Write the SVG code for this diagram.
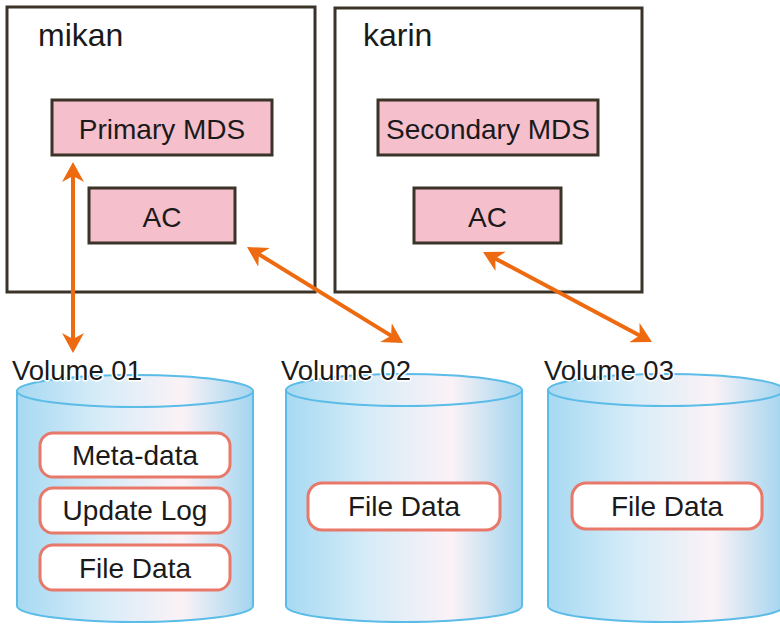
<svg xmlns="http://www.w3.org/2000/svg" width="780" height="624" viewBox="0 0 780 624">
<defs>
<linearGradient id="cyl" x1="0" y1="0" x2="1" y2="0">
<stop offset="0" stop-color="#a6d9f2"/>
<stop offset="0.35" stop-color="#d6ecf8"/>
<stop offset="0.7" stop-color="#fbf2f6"/>
<stop offset="1" stop-color="#a3d5ef"/>
</linearGradient>
<marker id="ah" viewBox="0 0 20 22" markerWidth="20" markerHeight="22" refX="14" refY="11" orient="auto-start-reverse" markerUnits="userSpaceOnUse">
<path d="M0,0 L20,11 L0,22 L6,11 Z" fill="#ee6a10"/>
</marker>
<style>
.host{fill:#fff;stroke:#3b3328;stroke-width:3}
.comp{fill:#f5bfcc;stroke:#3b3328;stroke-width:3}
.item{fill:#fff;stroke:#e8786a;stroke-width:3}
.body{fill:url(#cyl);stroke:#5bbce8;stroke-width:2}
.top{fill:url(#cyl);stroke:#5bbce8;stroke-width:2}
text{font-family:"Liberation Sans",Arial,sans-serif;fill:#1a1a1a}
.t{font-size:28px;text-anchor:middle}
.h{font-size:32px}
.v{font-size:27.5px;stroke:#fff;stroke-width:3;paint-order:stroke;stroke-linejoin:round}
.arr{stroke:#ee6a10;stroke-width:4;fill:none;marker-start:url(#ah);marker-end:url(#ah)}
</style>
</defs>

<g id="mikan">
<rect class="host" x="7" y="7" width="308" height="285"/>
<text class="h" x="38" y="46">mikan</text>
</g>
<g id="primary-mds">
<rect class="comp" x="52" y="100" width="220" height="55"/>
<text class="t" x="162" y="139">Primary MDS</text>
</g>
<g id="ac-mikan">
<rect class="comp" x="89" y="188" width="146" height="55"/>
<text class="t" x="162" y="227">AC</text>
</g>

<g id="karin">
<rect class="host" x="335" y="8" width="307" height="284"/>
<text class="h" x="363" y="46">karin</text>
</g>
<g id="secondary-mds">
<rect class="comp" x="378" y="100" width="220" height="55"/>
<text class="t" x="488" y="139">Secondary MDS</text>
</g>
<g id="ac-karin">
<rect class="comp" x="414" y="188" width="147" height="55"/>
<text class="t" x="487.5" y="227">AC</text>
</g>

<g id="volume01">
<path class="body" d="M17,391 L17,606 A118,16 0 0 0 253,606 L253,391 Z"/>
<ellipse class="top" cx="135" cy="391" rx="118" ry="16"/>
<text class="v" x="12" y="380">Volume 01</text>
<g id="meta-data">
<rect class="item" x="40" y="433" width="190" height="44" rx="13"/>
<text class="t" x="135" y="465">Meta-data</text>
</g>
<g id="update-log">
<rect class="item" x="40" y="488" width="190" height="45" rx="13"/>
<text class="t" x="135" y="520">Update Log</text>
</g>
<g id="file-data-01">
<rect class="item" x="40" y="545" width="190" height="45" rx="13"/>
<text class="t" x="135" y="578">File Data</text>
</g>
</g>

<g id="volume02">
<path class="body" d="M286,390 L286,606 A118,16 0 0 0 522,606 L522,390 Z"/>
<ellipse class="top" cx="404" cy="390" rx="118" ry="16"/>
<text class="v" x="281" y="380">Volume 02</text>
<g id="file-data-02">
<rect class="item" x="308" y="483" width="192" height="47" rx="14"/>
<text class="t" x="404" y="516">File Data</text>
</g>
</g>

<g id="volume03">
<path class="body" d="M548,390 L548,606 A118,16 0 0 0 784,606 L784,390 Z"/>
<ellipse class="top" cx="666" cy="390" rx="118" ry="16"/>
<text class="v" x="544" y="380">Volume 03</text>
<g id="file-data-03">
<rect class="item" x="572" y="483" width="190" height="46" rx="14"/>
<text class="t" x="667" y="516">File Data</text>
</g>
</g>

<g id="connectors">
<line class="arr" x1="73" y1="168" x2="73" y2="347"/>
<line class="arr" x1="252.1" y1="250.1" x2="397.9" y2="339.9"/>
<line class="arr" x1="488.3" y1="254.8" x2="646.7" y2="339.2"/>
</g>
</svg>
